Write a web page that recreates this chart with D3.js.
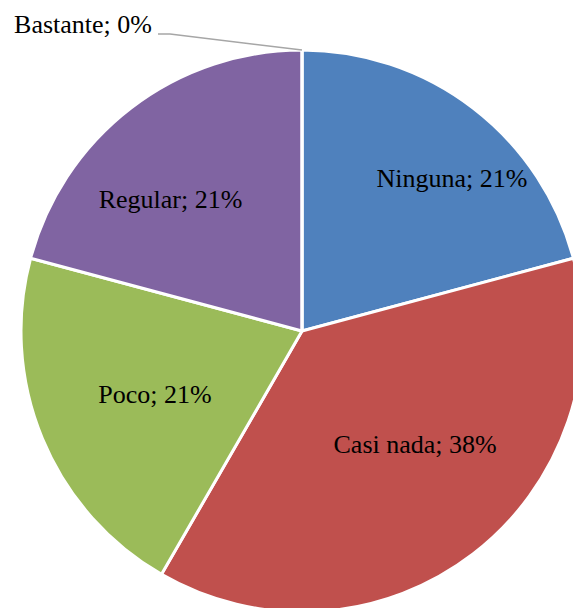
<!DOCTYPE html>
<html><head><meta charset="utf-8">
<script src="https://cdn.jsdelivr.net/npm/d3@7"></script>
<style>html,body{margin:0;padding:0;background:#fff;}svg{display:block;}</style>
</head><body>
<svg id="chart" width="573" height="608"></svg>
<script>
const categories = ["Ninguna", "Casi nada", "Poco", "Regular", "Bastante"];
const values = [5, 9, 5, 5, 0];
const percentLabels = ["21%", "38%", "21%", "21%", "0%"];
const colors = ["#4F81BD", "#C0504D", "#9BBB59", "#8064A2", "#4BACC6"];

const FONT = "Liberation Serif, Times New Roman, serif";
const FS = 26;
const svg = d3.select("#chart");
const cx = 302, cy = 331, R = 281;
const g = svg.append("g").attr("transform", `translate(${cx},${cy})`);

const pie = d3.pie().sort(null).value(d => d)(values);
const arc = d3.arc().innerRadius(0).outerRadius(R);

g.selectAll("path.slice").data(pie).enter().append("path")
  .attr("class", "slice")
  .attr("d", arc)
  .attr("fill", (d, i) => colors[i])
  .attr("stroke", "#fff")
  .attr("stroke-width", 3)
  .attr("stroke-linejoin", "round");

// label placement (radius and angle offset per slice, relative to slice mid)
const labelR = [214, 160, 160, 186];
const labelDA = [7, -7.5, -0.7, -7.5];
pie.forEach((d, i) => {
  if (i > 3) return;
  const mid = (d.startAngle + d.endAngle) / 2 + labelDA[i] * Math.PI / 180;
  const x = Math.sin(mid) * labelR[i], y = -Math.cos(mid) * labelR[i];
  g.append("text").attr("x", x).attr("y", y).attr("dy", "0.33em")
    .attr("text-anchor", "middle")
    .attr("font-family", FONT)
    .attr("font-size", FS).attr("fill", "#000")
    .text(categories[i] + "; " + percentLabels[i]);
});

// Bastante (0%) label with leader line
const b = pie[4];
const bx = Math.sin(b.startAngle) * R, by = -Math.cos(b.startAngle) * R;
g.append("path")
  .attr("d", `M${bx},${by} L${170 - cx},${34 - cy} L${158 - cx},${34 - cy}`)
  .attr("fill", "none").attr("stroke", "#A6A6A6").attr("stroke-width", 1.5);
g.append("text").attr("x", 152 - cx).attr("y", 33 - cy)
  .attr("text-anchor", "end")
  .attr("font-family", FONT)
  .attr("font-size", FS).attr("fill", "#000")
  .text(categories[4] + "; " + percentLabels[4]);
</script>
</body></html>
